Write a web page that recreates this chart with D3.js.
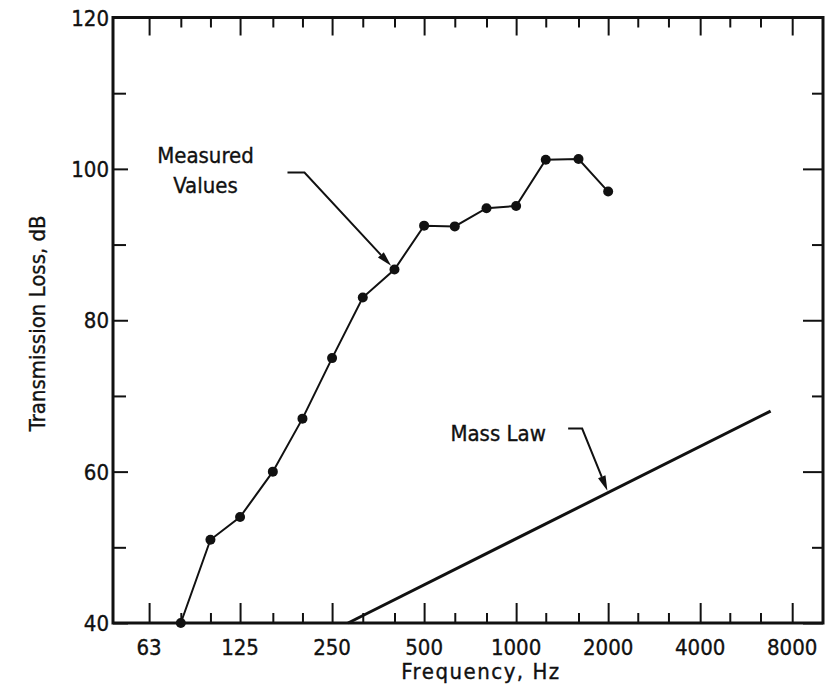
<!DOCTYPE html>
<html>
<head>
<meta charset="utf-8">
<script src="https://cdn.jsdelivr.net/npm/d3@7"></script>
<style>
body { margin: 0; background: #fff; }
text { font-family: "DejaVu Sans Condensed", "DejaVu Sans", sans-serif; font-stretch: condensed; fill: #111; stroke: #111; stroke-width: 0.35; }
</style>
</head>
<body>
<svg id="chart"></svg>
<script>
// measured third-octave values
const frequencies = [80, 100, 125, 160, 200, 250, 315, 400, 500, 630, 800, 1000, 1250, 1600, 2000];
const measuredTL = [40, 51, 54, 60, 67, 75, 83, 86.7, 92.5, 92.4, 94.8, 95.1, 101.2, 101.3, 97];

// mass law line end points
const massLawFreq = [282, 6800];
const massLawTL = [40, 68];

const xTickValues = [63, 125, 250, 500, 1000, 2000, 4000, 8000];
const xTickLabels = ['63', '125', '250', '500', '1000', '2000', '4000', '8000'];
const xMinorTicks = [80, 100, 160, 200, 315, 400, 630, 800, 1250, 1600, 2500, 3150, 5000, 6300];
const yTickValues = [40, 60, 80, 100, 120];
const yMinorTicks = [50, 70, 90, 110];

const measuredLabel = ['Measured', 'Values'];
const massLawLabel = 'Mass Law';
const xLabel = 'Frequency, Hz';
const yLabel = 'Transmission Loss, dB';

const width = 832;
const height = 686;
const marginLeft = 113;
const marginRight = 9;
const marginTop = 17.5;
const marginBottom = 63;

const svg = d3.select('#chart')
    .attr('width', width)
    .attr('height', height)
    .attr('viewBox', [0, 0, width, height]);

const x = d3.scaleLog([48, 10090], [marginLeft, width - marginRight]);
const y = d3.scaleLinear([40, 120], [height - marginBottom, marginTop]);

const fontSize = 22;

// ticks, all pointing into the plot
const tickAxis = (axis, scale, values, size) => axis(scale).tickValues(values).tickSize(-size).tickFormat('');

const addTicks = (axis, transform, values, size) => svg.append('g')
    .attr('transform', transform)
    .call(tickAxis(axis, axis === d3.axisBottom || axis === d3.axisTop ? x : y, values, size))
    .call(g => g.select('.domain').remove())
    .call(g => g.selectAll('.tick line').attr('stroke', '#111').attr('stroke-width', 2));

addTicks(d3.axisBottom, `translate(0,${y(40)})`, xTickValues, 20);
addTicks(d3.axisBottom, `translate(0,${y(40)})`, xMinorTicks, 10);
addTicks(d3.axisTop, `translate(0,${y(120)})`, xTickValues, 18);
addTicks(d3.axisTop, `translate(0,${y(120)})`, xMinorTicks, 10);
addTicks(d3.axisLeft, `translate(${x.range()[0]},0)`, yTickValues, 15);
addTicks(d3.axisLeft, `translate(${x.range()[0]},0)`, yMinorTicks, 13);
addTicks(d3.axisRight, `translate(${x.range()[1]},0)`, yTickValues, 20);
addTicks(d3.axisRight, `translate(${x.range()[1]},0)`, yMinorTicks, 11);

// frame
svg.append('rect')
    .attr('x', x.range()[0])
    .attr('y', y(120))
    .attr('width', x.range()[1] - x.range()[0])
    .attr('height', y(40) - y(120))
    .attr('fill', 'none')
    .attr('stroke', '#111')
    .attr('stroke-width', 3);

// tick labels
svg.append('g')
    .selectAll('text')
    .data(xTickValues)
    .join('text')
        .attr('x', d => x(d))
        .attr('y', y(40) + 32)
        .attr('text-anchor', 'middle')
        .attr('font-size', fontSize)
        .text((d, i) => xTickLabels[i]);

svg.append('g')
    .selectAll('text')
    .data(yTickValues)
    .join('text')
        .attr('x', x.range()[0] - 4)
        .attr('y', d => y(d) + 8)
        .attr('text-anchor', 'end')
        .attr('font-size', fontSize)
        .text(d => d);

svg.append('text')
    .attr('x', (x.range()[0] + x.range()[1]) / 2 + 13)
    .attr('y', height - 7)
    .attr('text-anchor', 'middle')
    .attr('font-size', fontSize)
    .attr('letter-spacing', 1.5)
    .text(xLabel);

svg.append('text')
    .attr('transform', `translate(45,${(y(40) + y(120)) / 2 + 3}) rotate(-90)`)
    .attr('text-anchor', 'middle')
    .attr('font-size', fontSize)
    .text(yLabel);

// mass law
const massLine = d3.line()
    .x(i => x(massLawFreq[i]))
    .y(i => y(massLawTL[i]));

svg.append('path')
    .attr('d', massLine(d3.range(massLawFreq.length)))
    .attr('fill', 'none')
    .attr('stroke', '#111')
    .attr('stroke-width', 3);

// measured values
const line = d3.line()
    .x(i => x(frequencies[i]))
    .y(i => y(measuredTL[i]));

svg.append('path')
    .attr('d', line(d3.range(frequencies.length)))
    .attr('fill', 'none')
    .attr('stroke', '#111')
    .attr('stroke-width', 2);

svg.append('g')
    .selectAll('circle')
    .data(d3.range(frequencies.length))
    .join('circle')
        .attr('cx', i => x(frequencies[i]))
        .attr('cy', i => y(measuredTL[i]))
        .attr('r', 5)
        .attr('fill', '#111');

// callouts: elbow leader with a filled arrow head
const callout = (tx, ty, elbow, start, gap, labels, labelPos) => {
    const [ex, ey] = [tx + elbow[0], ty + elbow[1]];
    const ang = Math.atan2(ty - ey, tx - ex);
    const px = tx - gap * Math.cos(ang);
    const py = ty - gap * Math.sin(ang);
    const headLen = 15, headW = 4;
    const bx = px - headLen * Math.cos(ang);
    const by = py - headLen * Math.sin(ang);

    svg.append('path')
        .attr('d', `M${tx + start},${ey}L${ex},${ey}L${bx},${by}`)
        .attr('fill', 'none')
        .attr('stroke', '#111')
        .attr('stroke-width', 2);

    svg.append('path')
        .attr('d', `M${px},${py}L${bx + headW * Math.sin(ang)},${by - headW * Math.cos(ang)}L${bx - headW * Math.sin(ang)},${by + headW * Math.cos(ang)}Z`)
        .attr('fill', '#111');

    svg.append('g')
        .selectAll('text')
        .data(labels)
        .join('text')
            .attr('x', tx + labelPos[0])
            .attr('y', (d, i) => ty + labelPos[1] + i * 30)
            .attr('text-anchor', 'middle')
            .attr('font-size', fontSize)
            .text(d => d);
};

const iMeasured = frequencies.indexOf(400);
callout(x(frequencies[iMeasured]), y(measuredTL[iMeasured]), [-90, -97], -107, 5, measuredLabel, [-189, -107]);

// point on the mass law line at 2000 Hz
const massAt = f => massLawTL[0] + (massLawTL[1] - massLawTL[0]) *
    Math.log(f / massLawFreq[0]) / Math.log(massLawFreq[1] / massLawFreq[0]);
callout(x(2000), y(massAt(2000)), [-26, -64], -40, 2, [massLawLabel], [-110, -52]);
</script>
</body>
</html>
